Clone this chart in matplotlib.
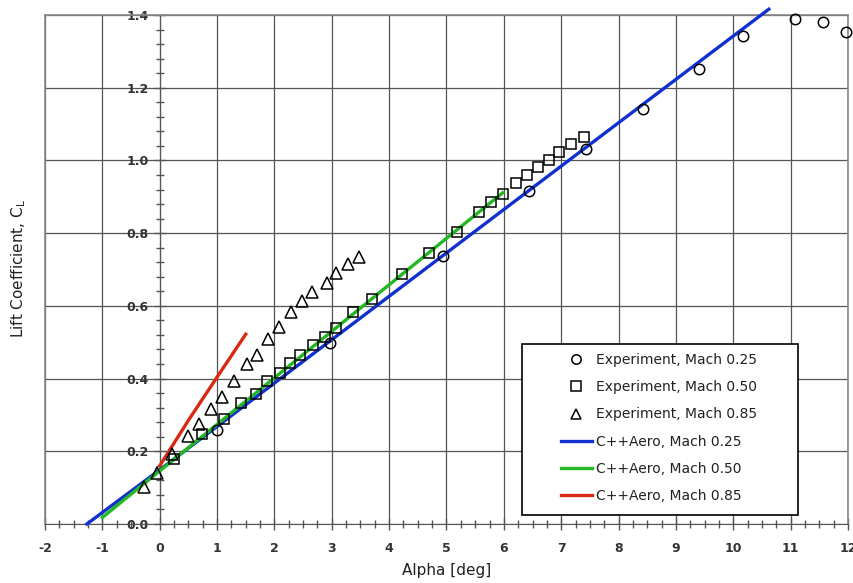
import matplotlib.pyplot as plt
from matplotlib.patches import Rectangle
from matplotlib.ticker import MultipleLocator

plt.rcParams["axes.unicode_minus"] = False

# experiment, Mach 0.25
exp25_alpha = [1.0, 2.97, 4.94, 6.43, 7.43, 8.42, 9.40, 10.17, 11.07, 11.56, 11.96]
exp25_cl = [0.259, 0.499, 0.738, 0.916, 1.031, 1.141, 1.252, 1.342, 1.390, 1.381, 1.352]

# experiment, Mach 0.50
exp50_alpha = [0.25, 0.73, 1.12, 1.41, 1.68, 1.87, 2.10, 2.28, 2.45, 2.68, 2.88, 3.07,
               3.375, 3.706, 4.22, 4.70, 5.19, 5.566, 5.77, 5.99, 6.205, 6.41, 6.60,
               6.787, 6.967, 7.165, 7.397]
exp50_cl = [0.18, 0.247, 0.288, 0.333, 0.358, 0.392, 0.415, 0.442, 0.465, 0.492, 0.515,
            0.540, 0.582, 0.619, 0.687, 0.745, 0.804, 0.859, 0.885, 0.909, 0.937, 0.960,
            0.981, 1.001, 1.022, 1.044, 1.065]

# experiment, Mach 0.85
exp85_alpha = [-0.274, -0.042, 0.209, 0.498, 0.69, 0.889, 1.086, 1.295, 1.516, 1.69,
               1.893, 2.085, 2.289, 2.486, 2.65, 2.91, 3.073, 3.29, 3.48]
exp85_cl = [0.101, 0.141, 0.193, 0.243, 0.274, 0.315, 0.348, 0.393, 0.439, 0.465,
            0.509, 0.543, 0.584, 0.614, 0.637, 0.664, 0.689, 0.714, 0.735]

# C++Aero predictions
aero25_alpha = [-1.27, 0.0, 3.0, 6.0, 9.0, 10.62]
aero25_cl = [0.0, 0.149, 0.507, 0.865, 1.223, 1.416]
aero50_alpha = [-1.0, 0.0, 2.0, 4.0, 5.98]
aero50_cl = [0.018, 0.146, 0.402, 0.658, 0.911]
aero85_alpha = [0.0, 0.5, 1.0, 1.5]
aero85_cl = [0.16, 0.285, 0.404, 0.522]

fig = plt.figure(figsize=(8.54, 5.83), dpi=100)
ax = fig.add_axes([45 / 854, 59 / 583, 803 / 854, 509 / 583])

grid_col = "#555555"
txt_col = "#333333"

ax.plot(aero25_alpha, aero25_cl, color="#1030d0", lw=2.4, label="C++Aero, Mach 0.25",
        clip_on=False, zorder=3)
ax.plot(aero50_alpha, aero50_cl, color="#22b822", lw=2.4, label="C++Aero, Mach 0.50", zorder=3)
ax.plot(aero85_alpha, aero85_cl, color="#d82a12", lw=2.4, label="C++Aero, Mach 0.85", zorder=3)

mk = dict(ls="none", mfc="none", mec="black", mew=1.1, clip_on=False, zorder=4)
ax.plot(exp25_alpha, exp25_cl, marker="o", ms=7.5, label="Experiment, Mach 0.25", **mk)
ax.plot(exp50_alpha, exp50_cl, marker="s", ms=7.5, label="Experiment, Mach 0.50", **mk)
ax.plot(exp85_alpha, exp85_cl, marker="^", ms=8, label="Experiment, Mach 0.85", **mk)

ax.set_xlim(-2, 12)
ax.set_ylim(0, 1.4)
ax.xaxis.set_major_locator(MultipleLocator(1))
ax.xaxis.set_minor_locator(MultipleLocator(0.25))
ax.yaxis.set_major_locator(MultipleLocator(0.2))
ax.yaxis.set_minor_locator(MultipleLocator(0.04))
ax.yaxis.set_major_formatter(plt.FormatStrFormatter("%.1f"))

ax.grid(True, which="major", color=grid_col, lw=0.9)
ax.set_axisbelow(True)
ax.axvline(-2, color="#888888", lw=1.2, clip_on=False, zorder=1)

ax.spines["left"].set_position(("data", 0))
ax.spines["left"].set_color(grid_col)
ax.spines["bottom"].set_color(grid_col)
for s in ("top", "right"):
    ax.spines[s].set_color("#888888")
    ax.spines[s].set_linewidth(1.2)

ax.tick_params(which="major", direction="inout", length=8, width=1, color=grid_col,
               labelsize=9, labelcolor=txt_col)
ax.tick_params(which="minor", direction="inout", length=6, width=1, color=grid_col)
ax.tick_params(axis="y", which="major", pad=4)
ax.tick_params(axis="x", which="major", pad=9)
for lab in ax.get_xticklabels() + ax.get_yticklabels():
    lab.set_fontweight("bold")

ax.set_xlabel("Alpha [deg]", fontsize=11, color="#222222", labelpad=6)
fig.text(19 / 854, 1 - 268 / 583, r"Lift Coefficient, C$_\mathrm{L}$", rotation=90,
         fontsize=11, color="#222222", ha="center", va="center")

# legend frame
box = Rectangle((0.5936, 0.0177), 0.3445, 0.3359, transform=ax.transAxes,
                facecolor="white", edgecolor="black", lw=1.2, zorder=5)
ax.add_patch(box)

handles, labels = ax.get_legend_handles_labels()
order = [3, 4, 5, 0, 1, 2]
leg = ax.legend([handles[i] for i in order], [labels[i] for i in order],
                loc="center", bbox_to_anchor=(0.7645, 0.1886), frameon=False,
                fontsize=10, handlelength=2.2, handletextpad=0.3, labelspacing=0.95,
                borderpad=0, numpoints=1, markerscale=0.9)
leg.set_zorder(6)
for t in leg.get_texts():
    t.set_color("#222222")

fig.savefig("out.png", dpi=100)
